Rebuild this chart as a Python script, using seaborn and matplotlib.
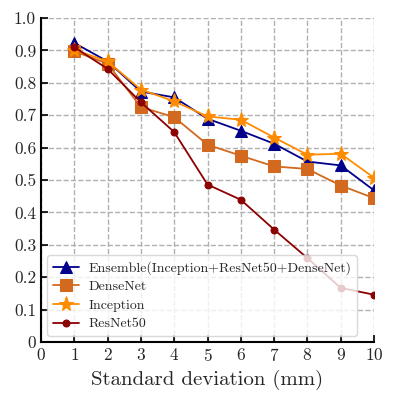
import numpy as np
import pandas as pd
import matplotlib
matplotlib.use("Agg")
import matplotlib.pyplot as plt
import seaborn as sns

# data
std_mm = [1, 2, 3, 4, 5, 6, 7, 8, 9, 10]
ensemble = [0.923, 0.866, 0.773, 0.755, 0.689, 0.652, 0.612, 0.557, 0.545, 0.468]
densenet = [0.897, 0.859, 0.725, 0.694, 0.609, 0.575, 0.542, 0.534, 0.483, 0.444]
inception = [0.902, 0.866, 0.779, 0.743, 0.696, 0.686, 0.631, 0.578, 0.581, 0.507]
resnet50 = [0.910, 0.843, 0.740, 0.648, 0.486, 0.439, 0.347, 0.259, 0.167, 0.146]

series_names = ["Ensemble(Inception+ResNet50+DenseNet)", "DenseNet", "Inception", "ResNet50"]
x_ticks = list(range(0, 11))
y_ticks = [0, 0.1, 0.2, 0.3, 0.4, 0.5, 0.6, 0.7, 0.8, 0.9, 1.0]
y_tick_labels = ["0", "0.1", "0.2", "0.3", "0.4", "0.5", "0.6", "0.7", "0.8", "0.9", "1.0"]

sns.set_style("ticks")
plt.rcParams["font.family"] = ["cmr10", "DejaVu Serif"]
plt.rcParams["axes.formatter.use_mathtext"] = True
plt.rcParams["mathtext.fontset"] = "cm"

fig = plt.figure(figsize=(3.95, 4.05), dpi=100)
ax = fig.add_axes([41 / 395, 1 - 342 / 405, 333 / 395, 324 / 405])

styles = [
    (ensemble, "#00008B", "^", 9),
    (densenet, "#D2691E", "s", 9),
    (inception, "#FF8C00", "*", 11),
    (resnet50, "#8B0000", "o", 5),
]
for name, (vals, col, mk, ms) in zip(series_names, styles):
    df = pd.DataFrame({"x": std_mm, "y": vals})
    sns.lineplot(data=df, x="x", y="y", ax=ax, color=col, marker=mk,
                 markersize=ms, markeredgecolor=col, linewidth=1.3, label=name)

ax.set_xlim(0, 10)
ax.set_ylim(0, 1.0)
ax.set_xticks(x_ticks)
ax.set_yticks(y_ticks)
ax.set_yticklabels(y_tick_labels)
ax.set_xlabel("Standard deviation (mm)", fontsize=15)
ax.set_ylabel("")
ax.tick_params(direction="in", length=5, width=1.2, labelsize=12.5, color="black")
ax.grid(True, linestyle="--", color="#b0b0b0", linewidth=1.0)
ax.set_axisbelow(True)
for s in ["top", "right"]:
    ax.spines[s].set_visible(False)
for s in ["left", "bottom"]:
    ax.spines[s].set_linewidth(1.5)
    ax.spines[s].set_color("black")

leg = ax.legend(loc="lower left", fontsize=10, framealpha=0.8, fancybox=True,
                edgecolor="#d0d0d0", borderpad=0.4, labelspacing=0.42,
                handlelength=1.9, handletextpad=0.7, borderaxespad=0,
                bbox_to_anchor=(6 / 333, 6 / 324))

fig.savefig("out.png", dpi=100)
